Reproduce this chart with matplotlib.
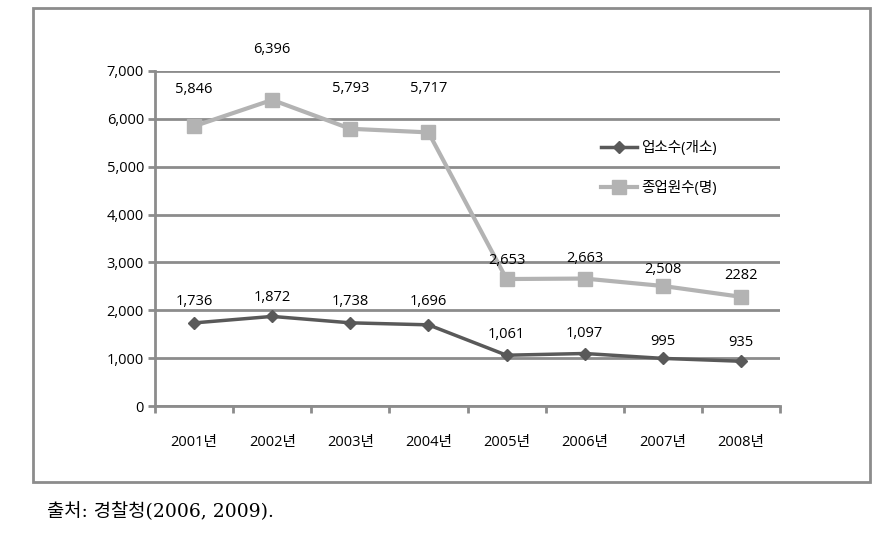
import matplotlib.pyplot as plt
from matplotlib.patches import Rectangle

plt.rcParams['font.family'] = ['Open Sans', 'Noto Sans CJK KR']

# 데이터
years = ['2001년', '2002년', '2003년', '2004년', '2005년', '2006년', '2007년', '2008년']
shops = [1736, 1872, 1738, 1696, 1061, 1097, 995, 935]
workers = [5846, 6396, 5793, 5717, 2653, 2663, 2508, 2282]
shop_labels = ['1,736', '1,872', '1,738', '1,696', '1,061', '1,097', '995', '935']
worker_labels = ['5,846', '6,396', '5,793', '5,717', '2,653', '2,663', '2,508', '2282']

# 라벨 위치 (픽셀, 점 위로)
shop_off = [21, 19, 21, 23, 21, 20, 17, 19]
worker_off = [37, 50, 40, 44, 19, 20, 16, 21]

W, H = 893, 541
fig = plt.figure(figsize=(W / 100, H / 100), dpi=100)

# 바깥 테두리
fig.patches.append(Rectangle((33 / W, 1 - 482 / H), (870 - 33) / W, (482 - 8) / H,
                             transform=fig.transFigure, fill=False,
                             edgecolor='#8c8c8c', linewidth=2))

ax = fig.add_axes([155 / W, 1 - 406 / H, (780 - 155) / W, (406 - 71) / H])
x = list(range(len(years)))

ax.plot(x, shops, color='#595959', marker='D', markersize=6, linewidth=2.5,
        label='업소수(개소)', zorder=3)
ax.plot(x, workers, color='#b3b3b3', marker='s', markersize=10, linewidth=3,
        label='종업원수(명)', zorder=3)

for xi, v, t, o in zip(x, shops, shop_labels, shop_off):
    ax.annotate(t, (xi, v), xytext=(0, o * 0.72), textcoords='offset points',
                ha='center', va='center', fontsize=10.5, color='black')
for xi, v, t, o in zip(x, workers, worker_labels, worker_off):
    ax.annotate(t, (xi, v), xytext=(0, o * 0.72), textcoords='offset points',
                ha='center', va='center', fontsize=10.5, color='black')

ax.set_xlim(-0.5, len(years) - 0.5)
ax.set_ylim(0, 7000)
ax.set_yticks(range(0, 7001, 1000))
ax.set_yticklabels([f'{v:,}' for v in range(0, 7001, 1000)], fontsize=10.5)
ax.set_xticks([i - 0.5 for i in range(len(years) + 1)], minor=False)
ax.set_xticklabels([])
ax.set_xticks(x, minor=True)
ax.set_xticklabels(years, minor=True, fontsize=10.5)
ax.tick_params(axis='x', which='minor', length=0, pad=21)
ax.tick_params(axis='x', which='major', length=5, color='#8c8c8c', width=2)
ax.tick_params(axis='y', length=5, color='#8c8c8c', width=2, pad=3)

ax.grid(axis='y', color='#8c8c8c', linewidth=2)
ax.set_axisbelow(True)
for s in ['top', 'right']:
    ax.spines[s].set_visible(False)
for s in ['left', 'bottom']:
    ax.spines[s].set_color('#8c8c8c')
    ax.spines[s].set_linewidth(2)

ax.legend(loc='upper left', bbox_to_anchor=(0.692, 0.83), frameon=False,
          fontsize=10.5, labelspacing=1.7, handlelength=2.5, handletextpad=0.3)

fig.text(47 / W, 1 - 512 / H, '출처: 경찰청(2006, 2009).', fontsize=13.5,
         va='center', ha='left', family=['DejaVu Serif', 'Noto Sans CJK KR'])

fig.savefig('out.png', dpi=100)
